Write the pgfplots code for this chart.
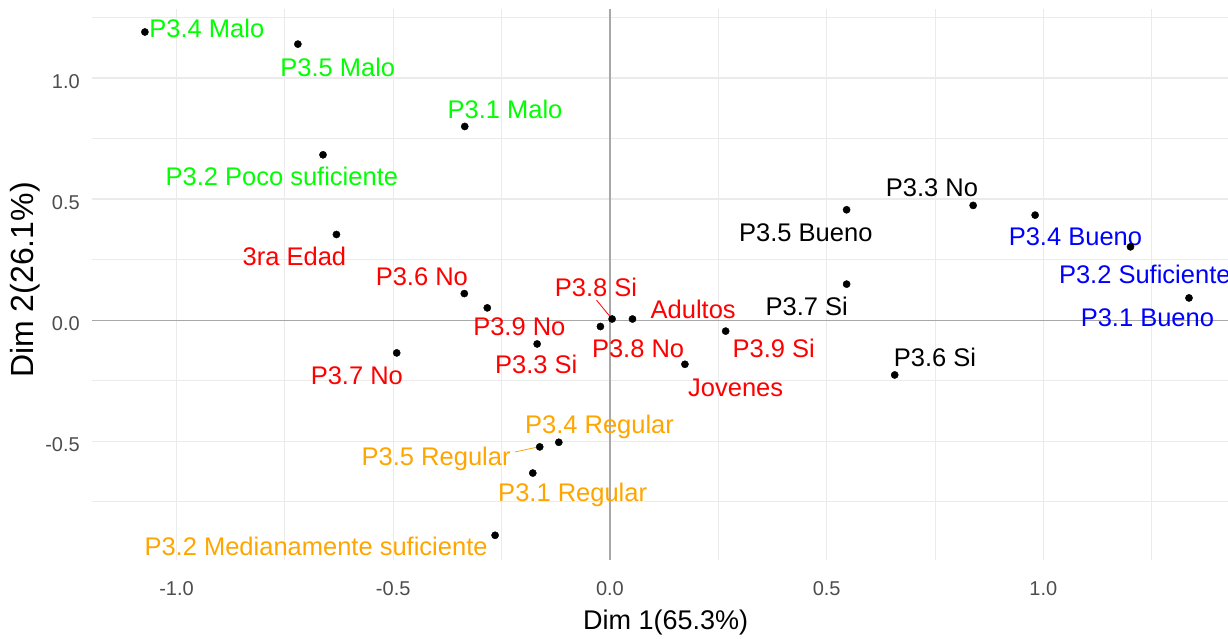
\documentclass[border=0pt]{standalone}
\usepackage{pgfplots}
\pgfplotsset{compat=1.18}
\usepackage{fontspec}
\setmainfont{Liberation Sans}
\usetikzlibrary{calc}
\definecolor{cgreen}{HTML}{00FF00}
\definecolor{cred}{HTML}{FF0000}
\definecolor{corange}{HTML}{FFA500}
\definecolor{cblue}{HTML}{0000FF}
\definecolor{gridc}{HTML}{EBEBEB}
\definecolor{zeroc}{HTML}{A8A8A8}
\definecolor{tickc}{HTML}{4D4D4D}
\newcommand\lab{\fontsize{25.5}{30}\selectfont}
\begin{document}
\begin{tikzpicture}
\begin{axis}[
  scale only axis, width=1136pt, height=551pt,
  xmin=-1.195, xmax=1.426, ymin=-0.99, ymax=1.285,
  axis line style={draw=none}, tick style={draw=none},
  xtick={-1,-0.5,0,0.5,1}, xticklabels={-1.0,-0.5,0.0,0.5,1.0},
  ytick={-0.5,0,0.5,1}, yticklabels={-0.5,0.0,0.5,1.0},
  minor xtick={-0.75,-0.25,0.25,0.75,1.25},
  minor ytick={-0.75,-0.25,0.25,0.75,1.25},
  grid=both,
  major grid style={color=gridc, line width=1.4pt},
  minor grid style={color=gridc, line width=0.8pt},
  /pgf/number format/assume math mode=true,
  xticklabel style={font=\fontsize{20}{24}\selectfont, text=tickc, inner sep=0pt, anchor=base, yshift=-36pt},
  yticklabel style={font=\fontsize{20}{24}\selectfont, text=tickc, inner sep=0pt, anchor=base east, xshift=-12pt, yshift=-10pt},
  xlabel={Dim 1(65.3\%)},
  ylabel={Dim 2(26.1\%)},
  xlabel style={font=\fontsize{27}{32}\selectfont, inner sep=0pt, anchor=base, at={(axis description cs:0.505,-0.126)}},
  ylabel style={font=\fontsize{32}{38}\selectfont, inner sep=0pt, anchor=base, rotate=0, at={(axis description cs:-0.0515,0.508)}},
  clip=false,
]
% zero lines
\addplot[zeroc, line width=1.3pt] coordinates {(-1.195,0) (1.426,0)};
\addplot[zeroc, line width=1.3pt] coordinates {(0,-0.99) (0,1.285)};
% leader lines
\addplot[cred, line width=0.8pt] coordinates {(-0.031,0.083) (0.002,0.011)};
\addplot[corange, line width=0.8pt] coordinates {(-0.219,-0.544) (-0.165,-0.523)};
% points
\addplot[only marks, mark=*, mark size=3.6pt, black] coordinates {
(-1.073,1.190) (-0.720,1.140) (-0.335,0.800) (-0.662,0.683)
(-0.631,0.354) (-0.336,0.110) (-0.283,0.051) (-0.168,-0.098)
(-0.022,-0.026) (0.005,0.005) (0.052,0.005) (0.267,-0.045)
(0.173,-0.182) (-0.118,-0.504) (-0.162,-0.523) (-0.178,-0.631)
(-0.265,-0.888) (-0.492,-0.135) (0.546,0.149) (0.546,0.456)
(0.838,0.474) (0.981,0.434) (1.201,0.303) (1.336,0.092)
(0.657,-0.226)
};
% labels
\begin{scope}[every node/.style={anchor=base, inner sep=0pt, font=\lab}]
\node[text=cgreen] at (axis cs:-0.930,1.168) {P3.4 Malo};
\node[text=cgreen] at (axis cs:-0.628,1.007) {P3.5 Malo};
\node[text=cgreen] at (axis cs:-0.242,0.834) {P3.1 Malo};
\node[text=cgreen] at (axis cs:-0.757,0.555) {P3.2 Poco suficiente};
\node[text=cred] at (axis cs:-0.728,0.227) {3ra Edad};
\node[text=cred] at (axis cs:-0.434,0.143) {P3.6 No};
\node[text=cred] at (axis cs:-0.209,-0.062) {P3.9 No};
\node[text=cred] at (axis cs:-0.170,-0.220) {P3.3 Si};
\node[text=cred] at (axis cs:-0.032,0.096) {P3.8 Si};
\node[text=cred] at (axis cs:0.192,0.007) {Adultos};
\node[text=cred] at (axis cs:0.065,-0.154) {P3.8 No};
\node[text=cred] at (axis cs:0.378,-0.154) {P3.9 Si};
\node[text=cred] at (axis cs:0.290,-0.317) {Jovenes};
\node[text=cred] at (axis cs:-0.584,-0.264) {P3.7 No};
\node[text=corange] at (axis cs:-0.024,-0.468) {P3.4 Regular};
\node[text=corange] at (axis cs:-0.401,-0.599) {P3.5 Regular};
\node[text=corange] at (axis cs:-0.086,-0.750) {P3.1 Regular};
\node[text=corange] at (axis cs:-0.678,-0.970) {P3.2 Medianamente suficiente};
\node[text=black] at (axis cs:0.743,0.510) {P3.3 No};
\node[text=black] at (axis cs:0.452,0.327) {P3.5 Bueno};
\node[text=black] at (axis cs:0.454,0.018) {P3.7 Si};
\node[text=black] at (axis cs:0.750,-0.190) {P3.6 Si};
\node[text=cblue] at (axis cs:1.074,0.310) {P3.4 Bueno};
\node[text=cblue] at (axis cs:1.234,0.152) {P3.2 Suficiente};
\node[text=cblue] at (axis cs:1.240,-0.028) {P3.1 Bueno};
\end{scope}
\end{axis}
\pgfresetboundingbox
\path ($(current axis.south west)+(-92pt,-79pt)$) rectangle ($(current axis.north east)+(0pt,9pt)$);
\end{tikzpicture}
\end{document}
